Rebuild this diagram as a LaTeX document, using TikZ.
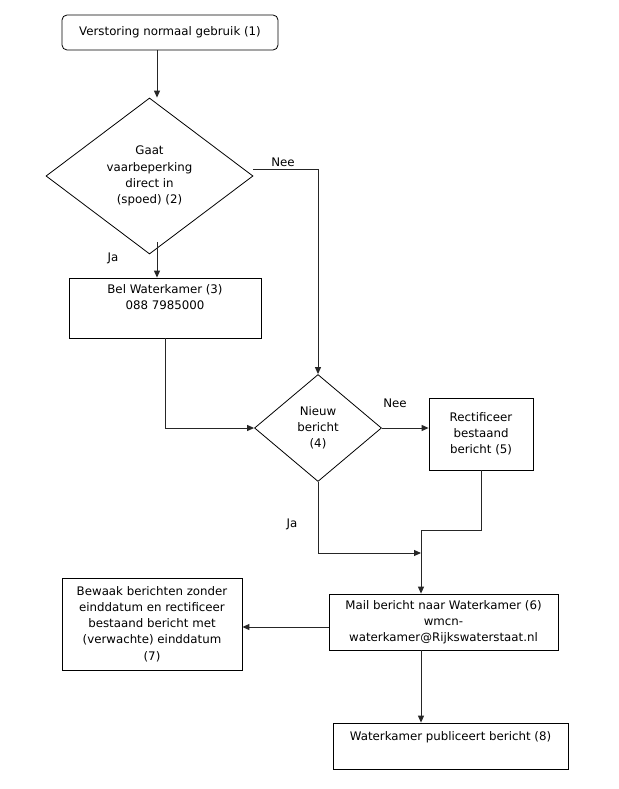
\documentclass[tikz,border=0pt]{standalone}
\usepackage{fontspec}
\setmainfont{DejaVu Sans}
\usetikzlibrary{shapes.geometric,arrows.meta}
\tikzset{
  box/.style={draw,line width=0.8pt,align=center,inner sep=1pt},
  ruit/.style={draw,diamond,line width=0.8pt,align=center,inner sep=0pt,aspect=1.3},
  pijl/.style={line width=1pt,draw=black!85,-{Triangle[length=7pt,width=6pt]}},
  lijn/.style={line width=1pt,draw=black!85},
  tekst/.style={inner sep=0pt}
}
\begin{document}
\begin{tikzpicture}[x=1pt,y=-1pt,font=\fontsize{11.8}{16.2}\selectfont]
            \useasboundingbox (0,0) rectangle (618,789);
            \node[box,rounded corners=5pt,minimum width=216pt,minimum height=35pt] (start) at (170,32.5) {Verstoring normaal gebruik (1)};
            \node[ruit,minimum width=207pt,minimum height=156pt] (spoed) at (149.5,176) {Gaat\\vaarbeperking\\direct in\\(spoed) (2)};
            \node[box,minimum width=192pt,minimum height=60pt] (bel) at (165,308) {Bel Waterkamer (3)\\088 7985000\\[6pt]};
            \node[ruit,minimum width=127pt,minimum height=107pt] (nieuw) at (318,428) {Nieuw\\bericht\\(4)};
            \node[box,minimum width=104pt,minimum height=72pt] (rect) at (481,434) {Rectificeer\\bestaand\\bericht (5)};
            \node[box,minimum width=229pt,minimum height=56pt] (mail) at (443.5,622) {Mail bericht naar Waterkamer (6)\\wmcn-\\waterkamer@Rijkswaterstaat.nl};
            \node[box,minimum width=180pt,minimum height=92pt] (bewaak) at (152,624) {Bewaak berichten zonder\\einddatum en rectificeer\\bestaand bericht met\\(verwachte) einddatum\\(7)};
            \node[box,minimum width=235pt,minimum height=46pt] (publ) at (450.5,746) {Waterkamer publiceert bericht (8)\\[4pt]};
            \coordinate (as1) at (157,0);
            \coordinate (as2) at (421,530);
            \coordinate (samen) at (421,553);
            \draw[pijl] (start.south -| as1) -- (spoed.north -| as1);
            \draw[pijl] ([yshift=12pt]spoed.south -| as1) -- (bel.north -| as1);
            \draw[pijl] ([yshift=7pt]spoed.east) -| (nieuw.north);
            \draw[pijl] (bel.south) |- (nieuw.west);
            \draw[pijl] (nieuw.east) -- (nieuw.east -| rect.west);
            \draw[pijl] (rect.south) |- (as2) -- (as2 |- mail.north);
            \draw[pijl] (nieuw.south) |- (samen);
            \draw[pijl] ([yshift=-5pt]mail.west) -- ([yshift=-5pt]mail.west -| bewaak.east);
            \draw[pijl] (as2 |- mail.south) -- (as2 |- publ.north);
            \node[tekst] (nee1) at (283,162) {Nee};
            \node[tekst] (ja1) at (113,258) {Ja};
            \node[tekst] (nee2) at (395,403) {Nee};
            \node[tekst] (ja2) at (292,524) {Ja};
        \end{tikzpicture}
\end{document}
